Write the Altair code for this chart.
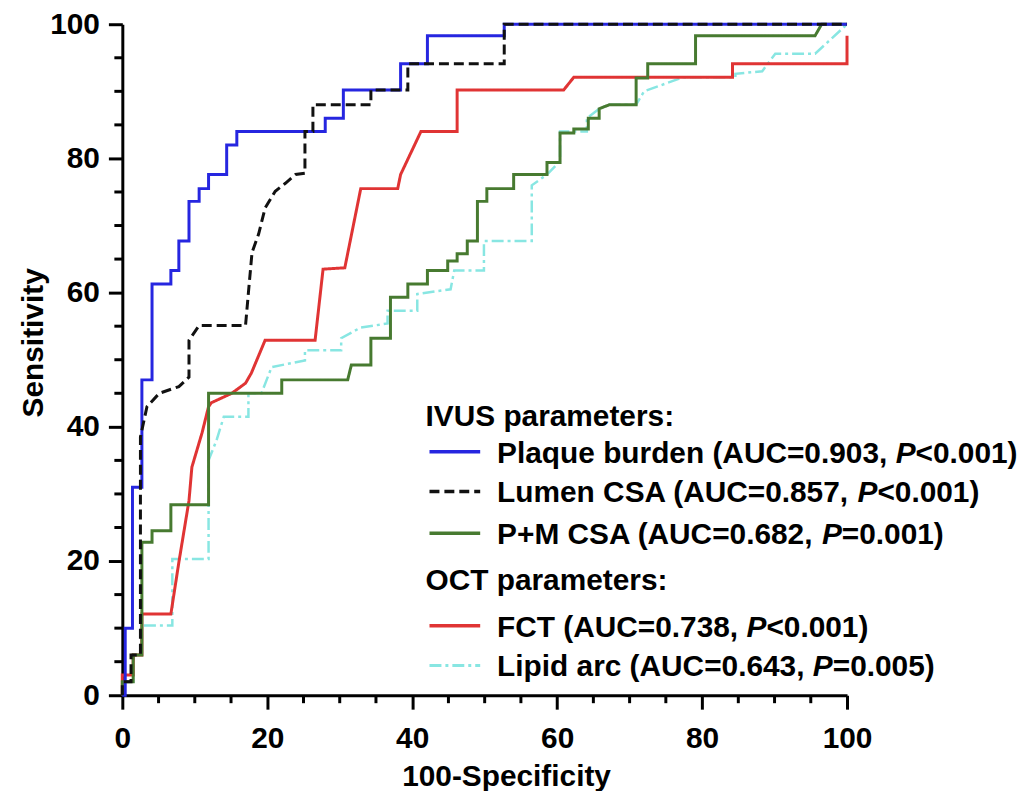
import altair as alt
import pandas as pd

# ---------------- data ----------------
X_TICKS = [0, 20, 40, 60, 80, 100]
Y_TICKS = [0, 20, 40, 60, 80, 100]
MINOR = [5, 10, 15, 25, 30, 35, 45, 50, 55, 65, 70, 75, 85, 90, 95]

SERIES = ["Plaque burden", "Lumen CSA", "P+M CSA", "FCT", "Lipid arc"]
AUC = ["0.903", "0.857", "0.682", "0.738", "0.643"]
P_REL = ["<", "<", "=", "<", "="]
P_VAL = ["0.001", "0.001", "0.001", "0.001", "0.005"]
HEADERS = ["IVUS parameters:", "OCT parameters:"]

plaque_x = [0, 0.4, 0.4, 1.4, 1.4, 2.7, 2.7, 4.1, 4.1, 6.7, 6.7, 7.8, 7.8, 9.2, 9.2, 10.6, 10.6,
            11.9, 11.9, 14.4, 14.4, 15.8, 15.8, 28, 28, 30.5, 30.5, 38.4, 38.4, 42.1, 42.1,
            52.7, 52.7, 100]
plaque_y = [0, 0, 10, 10, 31, 31, 47, 47, 61.3, 61.3, 63.3, 63.3, 67.7, 67.7, 73.6, 73.6, 75.5,
            75.5, 77.6, 77.6, 82, 82, 84, 84, 86, 86, 90.2, 90.2, 94.1, 94.1, 98.3,
            98.3, 100, 100]

lumen_x = [0, 0, 1.2, 1.2, 2.5, 2.5, 3.4, 5.1, 7.8, 9.2, 9.2, 10.6, 17, 17.4, 17.9, 18.8, 19.7,
           21.1, 22.5, 23.9, 25.2, 25.2, 26.3, 26.3, 34.3, 34.3, 39.4, 39.4, 52.7, 52.7, 100]
lumen_y = [0, 2, 2, 6, 6, 38.5, 43, 45, 46, 47.4, 52.9, 55.1, 55.1, 60, 66, 68.7, 72.6,
           75.1, 76.3, 77.6, 77.8, 84, 84, 88, 88, 90.2, 90.2, 94.1, 94.1, 100, 100]

pm_x = [0, 0, 1.5, 1.5, 2.7, 2.7, 4.1, 4.1, 6.7, 6.7, 11.9, 11.9, 22, 22, 31.1, 31.6, 34.3, 34.3,
        37, 37, 39.4, 39.4, 42.1, 42.1, 44.9, 44.9, 46.2, 46.2, 47.6, 47.6, 49, 49, 50.3, 50.3,
        54, 54, 58.6, 58.6, 60.4, 60.4, 62.3, 62.3, 64.3, 64.3, 65.8, 65.8, 67.2, 70.9, 70.9,
        72.5, 72.5, 79.1, 79.1, 95.6, 96.5, 100]
pm_y = [0, 2, 2, 6, 6, 22.8, 22.8, 24.5, 24.5, 28.4, 28.4, 45, 45, 47, 47, 49.2, 49.2, 53.2,
        53.2, 59.3, 59.3, 61.3, 61.3, 63.3, 63.3, 64.7, 64.7, 65.8, 65.8, 67.7, 67.7, 73.6, 73.6, 75.5,
        75.5, 77.6, 77.6, 79.4, 79.4, 83.8, 83.8, 84.4, 84.4, 86, 86, 87.4, 88, 88, 92,
        92, 94.1, 94.1, 98.3, 98.3, 100, 100]

fct_x = [0, 0, 1.5, 1.5, 2.7, 2.7, 6.7, 7.8, 9.2, 9.6, 11, 11.9, 12.3, 15.1, 17, 17.8, 19.7,
         26.6, 27.7, 30.7, 32.9, 38, 38.4, 41.2, 46.2, 46.2, 60.9, 62.3, 84.2, 84.2, 100, 100]
fct_y = [0, 3, 3, 6, 6, 12.1, 12.1, 19.8, 29, 34, 39.1, 43, 43.6, 45, 46.5, 48, 52.9,
         52.9, 63.5, 63.7, 75.5, 75.5, 77.6, 84, 84, 90.2, 90.2, 92.1, 92.1, 94.1, 94.1, 98.3]

lipid_x = [0, 0, 1.5, 1.5, 2.7, 2.7, 6.9, 6.9, 11.9, 11.9, 13, 14, 17.4, 17.4, 19.2, 20.6, 25.2,
           25.2, 30.2, 30.2, 32.9, 36.6, 36.6, 40.7, 40.7, 45.3, 45.8, 49.9, 49.9, 56.5, 56.5,
           58.6, 60.4, 60.4, 64.1, 64.1, 65.8, 67.2, 70.9, 72, 77.4, 84.6, 84.6, 88.3, 90.1,
           95.6, 100]
lipid_y = [0, 2, 2, 6, 6, 10.4, 10.4, 20.3, 20.3, 35, 38, 41.5, 41.5, 45, 45, 48.9, 49.9,
           51.4, 51.4, 53.2, 54.8, 55.4, 57.3, 57.3, 59.8, 60.5, 63.3, 63.3, 67.7, 67.7, 76,
           77.6, 79.6, 84, 84, 86, 87.4, 88, 88, 90, 92.1, 92.1, 92.6, 93, 95.6,
           95.6, 100]

CURVES = [(plaque_x, plaque_y), (lumen_x, lumen_y), (pm_x, pm_y), (fct_x, fct_y), (lipid_x, lipid_y)]

# ---------------- styles ----------------
FONT = "Liberation Sans"
FS = 30
COLORS = ["#2626e0", "#111111", "#477a30", "#e03434", "#88e6e2"]
DASHES = [[1, 0], [10, 5], [1, 0], [1, 0], [12, 4, 3, 4]]
WIDTHS = [3, 3, 3, 3, 2.5]
DRAW_ORDER = [4, 3, 2, 0, 1]

W, H = 729, 675
PAD = {"left": 115, "top": 14, "right": 172, "bottom": 94}

# Arial/Liberation Sans Bold advance widths (per 1000 em)
ADV = {' ': 278, '(': 333, ')': 333, ',': 278, '.': 278, '=': 584, '<': 584, '+': 584, ':': 333,
       'A': 722, 'C': 722, 'U': 722, 'P': 667, 'M': 833, 'S': 667, 'F': 611, 'T': 611, 'L': 611,
       'I': 278, 'V': 667, 'O': 778, 'a': 556, 'b': 611, 'c': 556, 'd': 611, 'e': 556, 'i': 278,
       'l': 278, 'm': 889, 'n': 611, 'p': 611, 'q': 611, 'r': 389, 'u': 611, 's': 556, 't': 333}
for _d in "0123456789":
    ADV[_d] = 556


def text_width(s):
    return sum(ADV.get(c, 556) for c in s) * FS / 1000.0


xs = alt.Scale(domain=[0, 100], nice=False, zero=False)
ys = alt.Scale(domain=[0, 100], nice=False, zero=False)

common_axis = dict(
    labelFont=FONT, labelFontSize=FS, labelFontWeight="bold", labelColor="black",
    titleFont=FONT, titleFontSize=FS, titleFontWeight="bold", titleColor="black",
    tickSize=14, tickWidth=3, tickColor="black", domainWidth=3, domainColor="black",
    grid=False, labelOverlap=False, labelFlush=False,
)
x_axis = alt.Axis(values=X_TICKS, title="100-Specificity", titleX=386, titleY=91,
                  titleBaseline="alphabetic", titleAlign="center",
                  labelBaseline="alphabetic", labelPadding=39, **common_axis)
y_axis = alt.Axis(values=Y_TICKS, title="Sensitivity", titleAngle=270, titleX=-80, titleY=320,
                  titleBaseline="alphabetic", titleAlign="center",
                  labelAlign="right", labelBaseline="middle", labelPadding=9, **common_axis)

layers = []

# minor ticks
layers.append(
    alt.Chart(pd.DataFrame({"x": MINOR})).mark_rule(color="black", strokeWidth=3).encode(
        x=alt.X("x:Q", scale=xs, axis=x_axis), y=alt.value(H), y2=alt.value(H + 8)))
layers.append(
    alt.Chart(pd.DataFrame({"y": MINOR})).mark_rule(color="black", strokeWidth=3).encode(
        y=alt.Y("y:Q", scale=ys, axis=y_axis), x=alt.value(-8), x2=alt.value(0)))

# curves
for k in DRAW_ORDER:
    cx, cy = CURVES[k]
    df = pd.DataFrame({"x": cx, "y": cy, "i": list(range(len(cx)))})
    layers.append(
        alt.Chart(df).mark_line(color=COLORS[k], strokeWidth=WIDTHS[k], strokeDash=DASHES[k],
                                strokeJoin="miter", strokeCap="butt", clip=False).encode(
            x=alt.X("x:Q", scale=xs, axis=x_axis),
            y=alt.Y("y:Q", scale=ys, axis=y_axis),
            order="i:Q"))

# custom legend (positions relative to the plot area)
LEG_HEAD_X = 305
LEG_LINE_X1, LEG_LINE_X2 = 309, 360
LEG_TEXT_X = 377
ROW_Y = {"h0": 395, 0: 432, 1: 472, 2: 514, "h1": 560, 3: 607, 4: 647}


def text_layer(s, x, y, italic=False):
    return alt.Chart(pd.DataFrame({"t": [s]})).mark_text(
        align="left", baseline="middle", font=FONT, fontSize=FS, fontWeight="bold",
        fontStyle="italic" if italic else "normal", color="black").encode(
        x=alt.value(x), y=alt.value(y), text="t:N")


layers.append(text_layer(HEADERS[0], LEG_HEAD_X, ROW_Y["h0"]))
layers.append(text_layer(HEADERS[1], LEG_HEAD_X, ROW_Y["h1"]))
for k in range(len(SERIES)):
    y = ROW_Y[k]
    ly = y - 2
    layers.append(
        alt.Chart(pd.DataFrame({"s": [SERIES[k]]})).mark_rule(
            color=COLORS[k], strokeWidth=WIDTHS[k] + 0.5, strokeDash=DASHES[k], strokeCap="butt").encode(
            x=alt.value(LEG_LINE_X1), x2=alt.value(LEG_LINE_X2), y=alt.value(ly)))
    part1 = f"{SERIES[k]} (AUC={AUC[k]}, "
    part2 = "P"
    part3 = f"{P_REL[k]}{P_VAL[k]})"
    x1 = LEG_TEXT_X
    x2 = x1 + text_width(part1)
    x3 = x2 + text_width(part2)
    layers.append(text_layer(part1, x1, y))
    layers.append(text_layer(part2, x2, y, italic=True))
    layers.append(text_layer(part3, x3, y))

chart = alt.layer(*layers).properties(
    width=W, height=H,
    autosize=alt.AutoSizeParams(type="none"),
    padding=PAD,
    background="white",
).configure_view(stroke=None)

chart.save("out.html", embed_options={"renderer": "svg", "actions": False})
